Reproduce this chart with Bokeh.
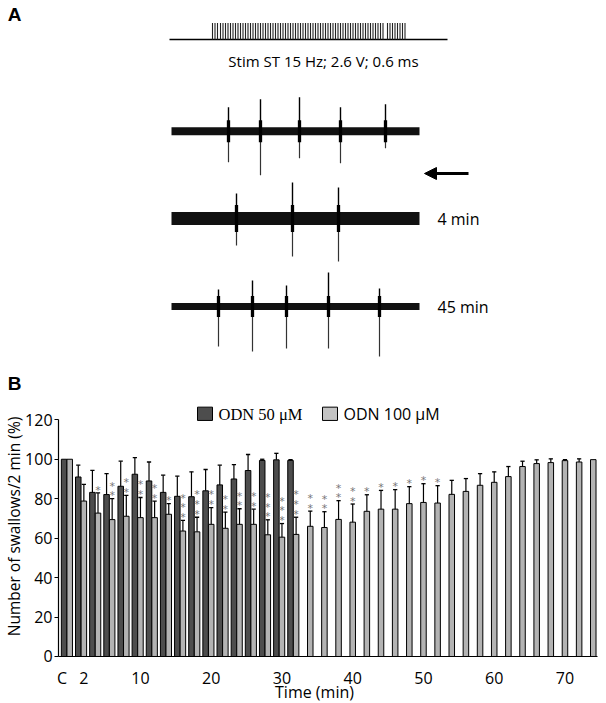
import numpy as np
from bokeh.plotting import figure
from bokeh.models import (Range1d, FixedTicker, Arrow, NormalHead, LinearAxis)
from bokeh.core.properties import value
from bokeh.embed import file_html
from bokeh.resources import INLINE

SANS = "Open Sans"

# ---------------- Panel B data ----------------
times_50 = [0, 2, 4, 6, 8, 10, 12, 14, 16, 18, 20, 22, 24, 26, 28, 30, 32]
odn50 = [100, 91.0, 83.2, 82.1, 86.3, 92.4, 89.0, 83.2, 81.2, 81.0, 84.0,
         87.0, 90.0, 94.3, 99.4, 99.7, 99.4]
odn50_sem = [0, 6.0, 11.2, 10.6, 12.7, 8.4, 9.6, 8.7, 10.2, 12.6, 10.8,
             10.0, 7.3, 8.1, 0.6, 3.3, 0.4]

times_100 = [0, 2, 4, 6, 8, 10, 12, 14, 16, 18, 20, 22, 24, 26, 28, 30, 32,
             34, 36, 38, 40, 42, 44, 46, 48, 50, 52, 54, 56, 58, 60, 62, 64,
             66, 68, 70, 72, 74]
odn100 = [100, 78.8, 72.7, 69.4, 71.1, 70.4, 70.4, 72.1, 63.6, 63.2, 67.0,
          65.0, 67.0, 67.0, 61.7, 60.5, 61.9, 66.0, 65.4, 69.5, 68.1, 73.6,
          74.7, 74.7, 77.5, 78.1, 77.8, 82.2, 83.7, 86.8, 88.3, 91.2, 96.3,
          97.8, 98.3, 99.3, 98.6, 99.8]
odn100_sem = [0, 8.5, 10.2, 10.6, 10.6, 10.2, 8.4, 5.4, 5.4, 7.4, 8.5, 8.2,
              7.9, 7.7, 7.6, 6.9, 8.7, 7.7, 8.0, 9.5, 9.2, 8.4, 9.5, 9.9,
              8.6, 9.5, 8.8, 7.1, 6.5, 5.9, 5.3, 5.1, 2.7, 1.9, 1.9, 0.5,
              1.6, 0]
odn100_stars = [0, 0, 1, 2, 2, 2, 2, 1, 3, 3, 2, 2, 2, 2, 3, 3, 3, 2, 2, 2,
                2, 1, 1, 1, 1, 1, 1, 0, 0, 0, 0, 0, 0, 0, 0, 0, 0, 0]

x_ticks = [-1.1, 2, 10, 20, 30, 40, 50, 60, 70]
x_tick_labels = {-1.1: "C"}
y_ticks = [0, 20, 40, 60, 80, 100, 120]
legend_labels = ["ODN 50 μM", "ODN 100 μM"]

# ---------------- Panel A data (schematic, in page pixels) ----------------
stim_baseline = [169, 447]
stim_trains = [(212, 217.5), (220, 383), (387, 406.5)]
stim_spacing = 2.5
trace_x = [171, 419]
trace_y = [130.7, 218.0, 306.0]
trace_band = [8, 13, 7]
spike_x = [[228, 260, 299, 340, 385], [236, 292, 338], [218, 252, 286, 328, 379]]
spike_up = [[24, 32, 34, 24, 27], [25, 36, 31], [17, 26, 21, 34, 18]]
spike_down = [[31, 44, 27, 32, 17], [27, 38, 43], [40, 45, 42, 42, 50]]
trace_labels = ["", "4 min", "45 min"]

W, H = 606, 703
# ================= single figure =================
p = figure(width=W, height=H, output_backend="svg", toolbar_location=None,
           x_range=Range1d(-9.781, 75.87), y_range=Range1d(-23.83, 332.57),
           x_axis_location=None, y_axis_location=None, min_border=0)
p.outline_line_color = None
p.grid.visible = False
p.extra_x_ranges = {"px": Range1d(0, W)}
p.extra_y_ranges = {"py": Range1d(H, 0)}
A = dict(x_range_name="px", y_range_name="py")

# ---- Panel A ----
p.segment(x0=[stim_baseline[0]], y0=[39], x1=[stim_baseline[1]], y1=[39],
          line_color="black", line_width=1.3, **A)
px = np.concatenate([np.arange(a, b, stim_spacing) for a, b in stim_trains])
p.segment(x0=px, y0=np.full(len(px), 39), x1=px, y1=np.full(len(px), 22.5),
          line_color="#222222", line_width=1.1, **A)
p.text(x=[323], y=[60], text=["Stim ST 15 Hz; 2.6 V; 0.6 ms"],
       text_font=value(SANS), text_font_size="15px", text_align="center",
       text_baseline="middle", text_color="black", **A)

for i in range(3):
    y = trace_y[i]
    p.segment(x0=[trace_x[0]], y0=[y], x1=[trace_x[1]], y1=[y],
              line_color="#111111", line_width=trace_band[i], line_cap="butt", **A)
    sx = np.array(spike_x[i], dtype=float)
    up = np.array(spike_up[i], dtype=float)
    dn = np.array(spike_down[i], dtype=float)
    p.segment(x0=sx, y0=y - up, x1=sx, y1=np.full(len(sx), y),
              line_color="black", line_width=1.4, **A)
    p.segment(x0=sx, y0=np.full(len(sx), y), x1=sx, y1=y + dn,
              line_color="#333333", line_width=1.2, **A)
    core = trace_band[i] / 2 + 7
    p.segment(x0=sx, y0=np.full(len(sx), y - core), x1=sx,
              y1=np.full(len(sx), y + core), line_color="black", line_width=3.3, **A)
    if trace_labels[i]:
        p.text(x=[437], y=[y], text=[trace_labels[i]], text_font=value(SANS),
               text_font_size="16px", text_align="left", text_baseline="middle", **A)

p.add_layout(Arrow(end=NormalHead(size=12, fill_color="black", line_color="black"),
                   x_start=468, y_start=173, x_end=424, y_end=173,
                   line_width=3, line_color="black", **A))
p.text(x=[14, 14], y=[14, 383], text=["A", "B"], text_font=value("Liberation Sans"),
       text_font_style="bold", text_font_size="19px", text_align="center",
       text_baseline="middle", **A)

# ---- Panel B ----
DARK = "#4d4d4d"
LIGHT = "#b3b3b3"
BW = 0.78
t50 = np.array(times_50, dtype=float) - 0.79
t100 = np.array(times_100, dtype=float)
v50 = np.array(odn50)
v100 = np.array(odn100)
e50 = np.array(odn50_sem)
e100 = np.array(odn100_sem)

p.vbar(x=t50, top=v50, bottom=0, width=BW, fill_color=DARK, line_color="black",
       line_width=1)
p.vbar(x=t100, top=v100, bottom=0, width=BW, fill_color=LIGHT, line_color="black",
       line_width=1)

for tx, v, e in ((t50, v50, e50), (t100, v100, e100)):
    m = e > 0
    p.segment(x0=tx[m], y0=v[m], x1=tx[m], y1=(v + e)[m], line_color="black",
              line_width=1.2)
    p.segment(x0=tx[m] - 0.3, y0=(v + e)[m], x1=tx[m] + 0.3, y1=(v + e)[m],
              line_color="black", line_width=1.3)

sx, sy = [], []
for t, v, e, n in zip(times_100, odn100, odn100_sem, odn100_stars):
    for k in range(n):
        sx.append(t)
        sy.append(v + e + 3.0 + 4.9 * k)
p.text(x=sx, y=sy, text=["*"] * len(sx), text_font=value("DejaVu Sans"),
       text_font_size="11px", text_align="center", text_baseline="middle",
       text_color="#777777", y_offset=3)

xaxis = LinearAxis(fixed_location=0, bounds=(-1.58, 74.6),
                   ticker=FixedTicker(ticks=x_ticks))
xaxis.major_label_overrides = x_tick_labels
xaxis.major_tick_line_color = None
xaxis.minor_tick_line_color = None
xaxis.major_label_standoff = 5
yaxis = LinearAxis(fixed_location=-1.58, bounds=(0, 120),
                   ticker=FixedTicker(ticks=y_ticks))
yaxis.major_tick_out = 4
yaxis.major_tick_in = 0
yaxis.minor_tick_line_color = None
yaxis.major_label_standoff = 2
for ax in (xaxis, yaxis):
    ax.axis_line_color = "black"
    ax.axis_line_width = 1.2
    ax.major_label_text_font = SANS
    ax.major_label_text_font_size = "16px"
    ax.major_label_text_color = "black"
p.add_layout(xaxis, "below")
p.add_layout(yaxis, "left")

p.text(x=[314], y=[691], text=["Time (min)"], text_font=value(SANS),
       text_font_size="16px", text_align="center", text_baseline="middle", **A)
p.text(x=[13], y=[526], text=["Number of swallows/2 min (%)"], text_font=value(SANS),
       text_font_size="15.5px", text_align="center", text_baseline="middle",
       angle=np.pi / 2, **A)

# legend (manual swatches)
p.rect(x=[204.5, 329.5], y=[413.3, 413.3], width=15, height=13.3,
       fill_color=[DARK, "#c4c4c4"], line_color="black", line_width=1, **A)
p.text(x=[218], y=[413.5], text=[legend_labels[0]], text_font=value("Liberation Serif"),
       text_font_size="16.5px", text_align="left", text_baseline="middle", **A)
p.text(x=[343], y=[413.5], text=[legend_labels[1]], text_font=value(SANS),
       text_font_size="16px", text_align="left", text_baseline="middle", **A)

open("out.html", "w").write(file_html(p, INLINE))
